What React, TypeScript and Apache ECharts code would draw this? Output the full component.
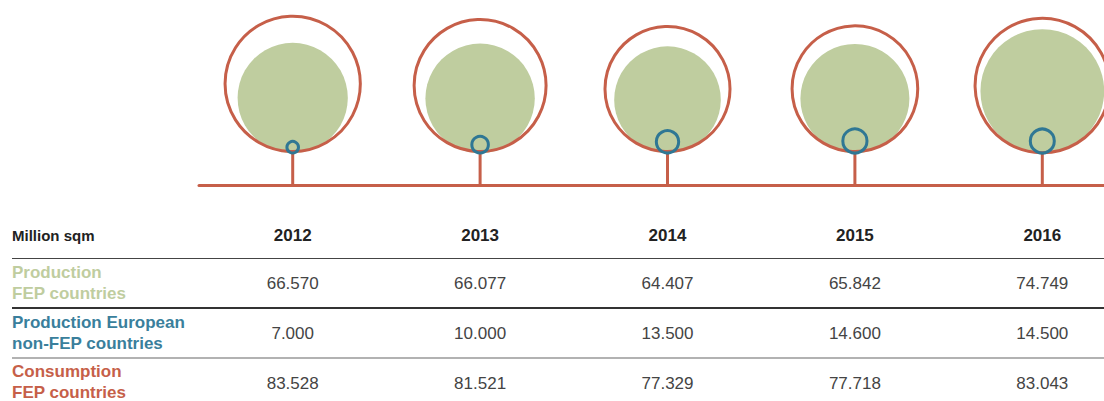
import React, { useEffect, useRef } from "react";
import * as echarts from "echarts";

const years = ["2012", "2013", "2014", "2015", "2016"];
const productionFEP = [66.57, 66.077, 64.407, 65.842, 74.749];
const productionNonFEP = [7.0, 10.0, 13.5, 14.6, 14.5];
const consumptionFEP = [83.528, 81.521, 77.329, 77.718, 83.043];
const rowLabels = [
  "Production\nFEP countries",
  "Production European\nnon-FEP countries",
  "Consumption\nFEP countries",
];
const unitLabel = "Million sqm";

const RED = "#c65f49";
const GREEN = "#bfcd9f";
const BLUE = "#2f7794";
const FONT = "'Liberation Sans', Arial, Helvetica, sans-serif";

const rowValues = [productionFEP, productionNonFEP, consumptionFEP];
const rowColors = [GREEN, "#3a7f9c", RED];

export default function App() {
  const ref = useRef<HTMLDivElement>(null);

  useEffect(() => {
    document.body.style.margin = "0";
    if (!ref.current) return;
    const chart = echarts.init(ref.current, undefined, { renderer: "svg" });

    const circleSeries = (name: string, values: number[], kind: string) => ({
      type: "custom",
      name,
      xAxisIndex: 0,
      yAxisIndex: 0,
      clip: false,
      data: values.map((v, i) => [i, v]),
      renderItem: (params: any, api: any) => {
        const i = api.value(0);
        const v = api.value(1);
        const base = api.coord([i, 0]);
        const d = api.size([0, v])[1];
        const x = base[0];
        const y0 = base[1];
        if (kind === "fill") {
          return {
            type: "circle",
            shape: { cx: x, cy: y0 - d / 2, r: d / 2 },
            style: { fill: GREEN, stroke: null },
          };
        }
        if (kind === "outer") {
          return {
            type: "group",
            children: [
              {
                type: "line",
                shape: { x1: x, y1: y0, x2: x, y2: y0 + 32 },
                style: { stroke: RED, lineWidth: 3 },
              },
              {
                type: "circle",
                shape: { cx: x, cy: y0 - d / 2, r: d / 2 - 1.5 },
                style: { fill: null, stroke: RED, lineWidth: 3 },
              },
            ],
          };
        }
        return {
          type: "circle",
          shape: { cx: x, cy: y0 - d / 2, r: d / 2 },
          style: { fill: null, stroke: BLUE, lineWidth: 3 },
        };
      },
    });

    const valueSeries = (row: number) => ({
      type: "custom",
      name: "row" + row,
      xAxisIndex: 1,
      yAxisIndex: 1,
      clip: false,
      data: rowValues[row].map((v, i) => [i, row, v]),
      renderItem: (params: any, api: any) => {
        const p = api.coord([api.value(0), api.value(1)]);
        const v = api.value(2) as number;
        return {
          type: "text",
          x: p[0],
          y: p[1],
          style: {
            text: v.toFixed(3),
            fill: "#444",
            font: `17px ${FONT}`,
            align: "center",
            verticalAlign: "middle",
          },
        };
      },
    });

    const rowCenters = [283, 333, 382];

    chart.setOption({
      animation: false,
      grid: [
        { left: 199, width: 937, top: 4, height: 149, outerBoundsMode: "none" },
        { left: 199, width: 937, top: 258, height: 150, outerBoundsMode: "none" },
      ],
      xAxis: [
        {
          type: "category",
          gridIndex: 0,
          data: years,
          offset: 32,
          axisLine: { onZero: false, lineStyle: { color: RED, width: 3 } },
          axisTick: { show: false },
          axisLabel: { show: false },
        },
        {
          type: "category",
          gridIndex: 1,
          data: years,
          position: "top",
          axisLine: { show: false },
          axisTick: { show: false },
          axisLabel: {
            margin: 23,
            verticalAlign: "middle",
            fontFamily: FONT,
            fontWeight: "bold",
            fontSize: 17,
            color: "#222",
          },
        },
      ],
      yAxis: [
        { type: "value", gridIndex: 0, min: 0, max: 90, show: false },
        {
          type: "category",
          gridIndex: 1,
          data: ["r0", "r1", "r2"],
          inverse: true,
          show: false,
        },
      ],
      graphic: [
        {
          type: "text",
          x: 12,
          y: 235,
          style: {
            text: unitLabel,
            fill: "#222",
            font: `bold 15px ${FONT}`,
            verticalAlign: "middle",
          },
        },
        {
          type: "line",
          shape: { x1: 12, y1: 258.5, x2: 1104, y2: 258.5 },
          style: { stroke: "#444", lineWidth: 1 },
        },
        {
          type: "line",
          shape: { x1: 12, y1: 308, x2: 1104, y2: 308 },
          style: { stroke: "#333", lineWidth: 2 },
        },
        {
          type: "line",
          shape: { x1: 12, y1: 358, x2: 1104, y2: 358 },
          style: { stroke: "#999", lineWidth: 1.5 },
        },
        ...rowLabels.map((t, r) => ({
          type: "text",
          x: 12,
          y: rowCenters[r],
          style: {
            text: t,
            fill: rowColors[r],
            font: `bold 17px ${FONT}`,
            lineHeight: 21,
            verticalAlign: "middle",
          },
        })),
      ],
      series: [
        circleSeries("Production FEP countries", productionFEP, "fill"),
        circleSeries("Consumption FEP countries", consumptionFEP, "outer"),
        circleSeries("Production European non-FEP countries", productionNonFEP, "inner"),
        valueSeries(0),
        valueSeries(1),
        valueSeries(2),
      ],
    });

    return () => chart.dispose();
  }, []);

  return <div ref={ref} style={{ width: 1104, height: 401 }} />;
}
